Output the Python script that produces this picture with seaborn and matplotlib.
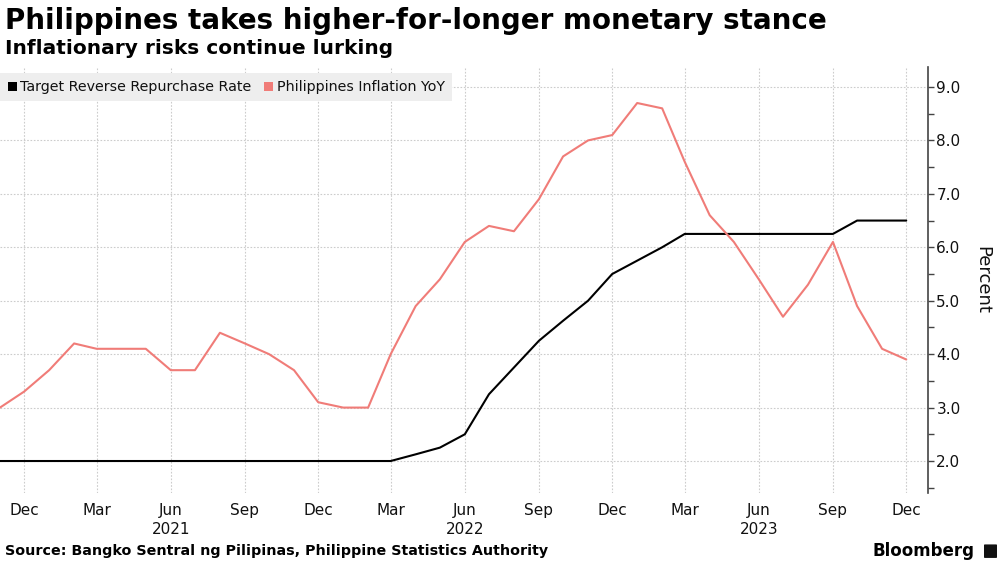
import pandas as pd
import matplotlib.pyplot as plt
from matplotlib.ticker import MultipleLocator
from matplotlib.patches import Rectangle, FancyBboxPatch
import seaborn as sns

# monthly data, Nov 2020 - Dec 2023
months = pd.date_range("2020-11-01", "2023-12-01", freq="MS")

inflation = [3.0, 3.3, 3.7, 4.2, 4.1, 4.1, 4.1, 3.7, 3.7, 4.4, 4.2, 4.0,
             3.7, 3.1, 3.0, 3.0, 4.0, 4.9, 5.4, 6.1, 6.4, 6.3, 6.9, 7.7,
             8.0, 8.1, 8.7, 8.6, 7.6, 6.6, 6.1, 5.4, 4.7, 5.3, 6.1, 4.9,
             4.1, 3.9]

policy_rate = [2.0] * 17 + [2.125, 2.25, 2.5, 3.25, 3.75, 4.25, 4.625,
               5.0, 5.5, 5.75, 6.0, 6.25, 6.25, 6.25, 6.25, 6.25, 6.25,
               6.25, 6.5, 6.5, 6.5]

series_names = ["Target Reverse Repurchase Rate", "Philippines Inflation YoY"]
series_colors = ["#000000", "#f07c78"]

df = pd.concat([
    pd.DataFrame({"date": months, "value": policy_rate, "series": series_names[0]}),
    pd.DataFrame({"date": months, "value": inflation, "series": series_names[1]}),
])

sns.set_style("white")
plt.rcParams['font.family'] = ['DejaVu Sans']
plt.rcParams['text.color'] = '#000000'

fig = plt.figure(figsize=(10, 5.63), dpi=100)
ax = fig.add_axes([0.0, 0.1243, 0.928, 0.7567])

sns.lineplot(data=df, x="date", y="value", hue="series",
             palette=dict(zip(series_names, series_colors)),
             linewidth=1.5, ax=ax, legend=False)

ax.set_xlim(pd.Timestamp("2020-11-01"), pd.Timestamp("2023-12-28"))
ax.set_ylim(1.401, 9.374)
ax.set_xlabel("")

# x ticks: quarterly months, year under Jun
tick_dates = pd.date_range("2020-12-01", "2023-12-01", freq="3MS")
tick_labels = [d.strftime("%b") + ("\n" + str(d.year) if d.month == 6 else "")
               for d in tick_dates]
ax.set_xticks(tick_dates)
ax.set_xticklabels(tick_labels, fontsize=11, color="#111111", linespacing=1.35)
ax.tick_params(axis="x", length=0, pad=7)

# right y axis
ax.yaxis.tick_right()
ax.yaxis.set_label_position("right")
ax.yaxis.set_major_locator(MultipleLocator(1.0))
ax.yaxis.set_minor_locator(MultipleLocator(0.5))
ax.yaxis.set_major_formatter(plt.FuncFormatter(lambda v, p: f"{v:.1f}"))
ax.tick_params(axis="y", which="major", direction="out", length=4, width=1,
               labelsize=11, labelcolor="#111111", pad=2, color="#444444")
ax.tick_params(axis="y", which="minor", direction="out", length=4, width=1,
               color="#444444")
ax.set_ylabel("Percent", fontsize=13, rotation=270, labelpad=22, color="#111111")

for s in ["top", "left", "bottom"]:
    ax.spines[s].set_visible(False)
ax.spines["right"].set_color("#444444")
ax.spines["right"].set_linewidth(1.2)

ax.grid(True, which="major", color="#cccccc", linestyle=(0, (1.5, 1.5)), linewidth=0.8)
ax.set_axisbelow(True)

# legend bar
ax.add_patch(Rectangle((0.0, 0.92), 0.487, 0.066, transform=ax.transAxes,
                       facecolor="#eeeeee", edgecolor="none", zorder=3))
leg_x = [0.009, 0.285]
for x, name, col in zip(leg_x, series_names, series_colors):
    ax.add_patch(Rectangle((x, 0.943), 0.009, 0.022, transform=ax.transAxes,
                           facecolor=col, edgecolor="none", zorder=4))
    ax.text(x + 0.013, 0.953, name, transform=ax.transAxes, fontsize=10.3,
            va="center", ha="left", color="#111111", zorder=4)

fig.text(0.005, 0.962, "Philippines takes higher-for-longer monetary stance",
         fontsize=20, fontweight="bold", va="center", ha="left")
fig.text(0.005, 0.913, "Inflationary risks continue lurking",
         fontsize=14.5, fontweight="bold", va="center", ha="left")
fig.text(0.005, 0.021, "Source: Bangko Sentral ng Pilipinas, Philippine Statistics Authority",
         fontsize=10.3, fontweight="bold", va="center", ha="left")
fig.text(0.974, 0.021, "Bloomberg", fontsize=12, fontweight="bold",
         va="center", ha="right")
fig.patches.append(FancyBboxPatch((0.985, 0.010), 0.011, 0.022,
                                  boxstyle="round,pad=0.001", transform=fig.transFigure,
                                  facecolor="#111111", edgecolor="none"))

fig.savefig("out.png", dpi=100)
